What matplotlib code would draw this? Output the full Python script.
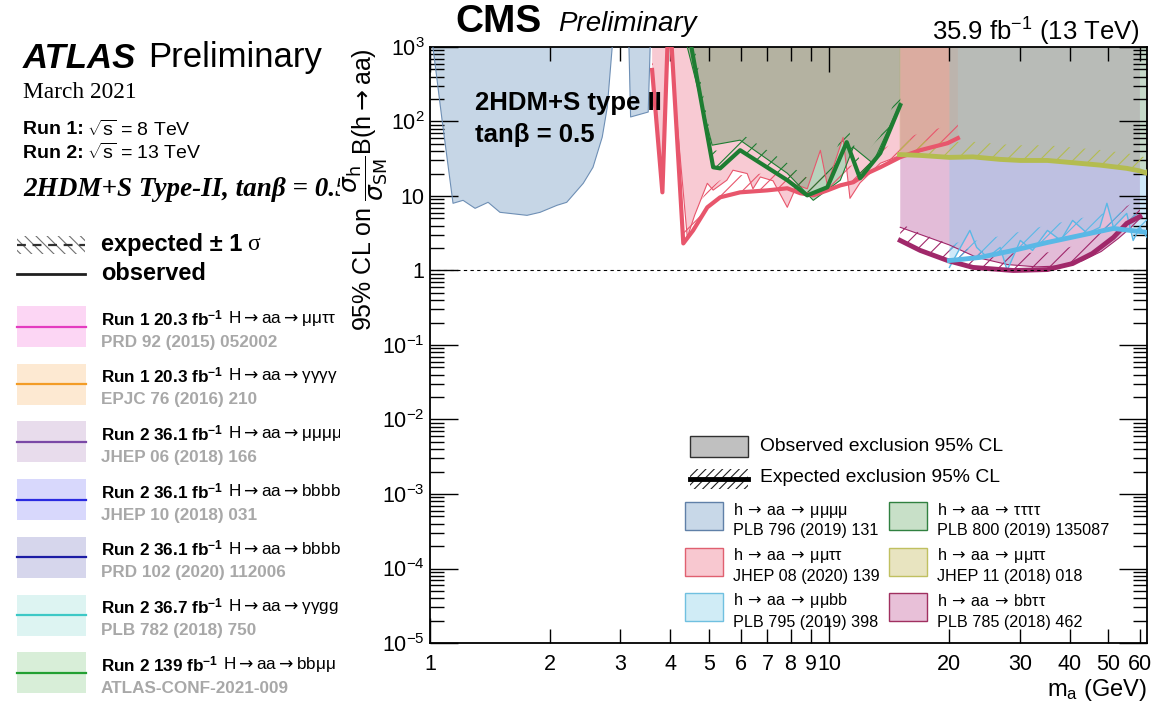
import matplotlib
matplotlib.use("Agg")
import matplotlib.pyplot as plt
from matplotlib.patches import Rectangle
from matplotlib.lines import Line2D
from matplotlib.ticker import LogLocator, NullFormatter

plt.rcParams['font.family'] = ['Liberation Sans', 'DejaVu Sans']
plt.rcParams['mathtext.fontset'] = 'custom'
plt.rcParams['mathtext.rm'] = 'Liberation Sans'
plt.rcParams['mathtext.it'] = 'Liberation Sans:italic'
plt.rcParams['mathtext.bf'] = 'Liberation Sans:bold'
plt.rcParams['mathtext.sf'] = 'Liberation Sans'
plt.rcParams['hatch.linewidth'] = 0.8

# ---------------- data ----------------
# h -> aa -> mumumumu  (PLB 796 (2019) 131): observed exclusion boundary
mmmm_x = [1.017, 1.072, 1.142, 1.21, 1.297, 1.398, 1.497, 1.75, 1.887, 2.08, 2.20, 2.42, 2.56, 2.70, 2.78, 2.86]
mmmm_y = [1000, 105, 7.98, 8.75, 6.83, 8.23, 6.04, 5.50, 6.04, 7.50, 8.23, 14.8, 24.3, 61.6, 156, 1000]
mmmm2_x = [3.15, 3.18, 3.52, 3.56]
mmmm2_y = [1000, 115, 134, 1000]

# h -> aa -> mumutautau (JHEP 08 (2020) 139)
mmtt_obs_x = [3.6, 3.82, 3.95, 4.0, 4.41, 4.6, 4.95, 5.12, 5.54, 5.74, 6.23, 6.44, 6.72, 7.23, 7.85, 8.3, 8.81,
              9.5, 9.89, 10.83, 11.27, 11.94, 13.42, 15.06, 17.0, 19.0, 21.0]
mmtt_obs_y = [492, 11.2, 1000, 1000, 2.78, 5.5, 14.8, 12.0, 16.3, 22.2, 20.0, 12.5, 18.0, 16.0, 7.05, 14.0, 12.5,
              41.0, 14.0, 61.0, 9.3, 15.0, 27.5, 35.0, 40.0, 48.0, 62.0]
mmtt_exp_x = [3.60, 3.82, 3.95, 4.00, 4.31, 4.56, 4.95, 5.33, 5.98, 6.99, 7.85, 8.46, 9.12, 9.89, 10.66, 11.49,
              12.45, 13.42, 15.06, 16.9, 19.8, 21.0]
mmtt_exp_y = [492, 11.2, 2000, 2000, 2.31, 3.45, 7.05, 9.6, 11.2, 11.9, 12.7, 10.9, 10.2, 11.9, 13.9, 15.3,
              20.2, 24.3, 33.2, 41.2, 51.2, 59.8]

# h -> aa -> tautautautau (PLB 800 (2019) 135087)
tttt_obs_x = [4.41, 5.09, 5.98, 7.85, 9.12, 10.66, 11.49, 12.86, 15.06]
tttt_obs_y = [1000, 48.1, 56.2, 20.2, 8.75, 16.3, 45.0, 27.5, 176]
tttt_exp_x = [4.41, 5.12, 5.33, 5.98, 7.85, 8.81, 9.89, 11.06, 11.94, 13.42, 15.06]
tttt_exp_y = [2000, 24.3, 23.5, 41.2, 16.3, 10.2, 13.1, 52.8, 17.3, 37.6, 166]

# h -> aa -> bbtautau (PLB 785 (2018) 462)
bbtt_obs_x = [15.06, 18.0, 20.0, 23.4, 28.0, 33.0, 38.0, 43.0, 48.0, 53.0, 57.0, 60.0]
bbtt_obs_y = [3.8, 2.7, 2.2, 1.5, 1.2, 1.12, 1.15, 1.35, 1.8, 2.7, 3.8, 5.0]
bbtt_exp_x = [15.06, 16.9, 19.8, 22.9, 28.9, 35.2, 40.7, 45.6, 51.5, 55.6, 60.0]
bbtt_exp_y = [2.53, 1.86, 1.36, 1.10, 1.0, 1.03, 1.24, 1.69, 2.78, 4.29, 5.3]

# h -> aa -> mumubb (PLB 795 (2019) 398)
mmbb_obs_x = [20.0, 20.9, 22.5, 23.4, 24.9, 26.8, 27.9, 30.1, 32.3, 35.2, 38.0, 40.7, 44.3, 47.6, 49.6, 51.5,
              55.6, 57.7, 60.0, 62.5]
mmbb_obs_y = [1.10, 1.69, 3.45, 2.04, 1.50, 2.04, 1.0, 2.53, 1.86, 3.45, 2.53, 4.7, 3.15, 3.79, 7.98, 3.79,
              5.84, 2.53, 3.79, 2.78]
mmbb_exp_x = [20.0, 23.9, 28.9, 35.2, 42.6, 51.5, 62.5]
mmbb_exp_y = [1.36, 1.50, 1.86, 2.38, 2.96, 3.67, 3.25]

# h -> aa -> mumutautau (JHEP 11 (2018) 018)
mmtt2_x = [15.0, 17.0, 20.0, 22.9, 26.8, 30.1, 35.2, 40.7, 47.6, 51.5, 55.6, 60.0, 62.5]
mmtt2_y = [36, 35, 33, 33.5, 31, 30, 30, 28, 26, 24.7, 23.5, 21.7, 20.2]

x_major = [1, 10]
x_minor = [2, 3, 4, 5, 6, 7, 8, 9, 20, 30, 40, 50, 60]
y_ticks = [1e-5, 1e-4, 1e-3, 1e-2, 1e-1, 1, 10, 1e2, 1e3]
y_labels = [r'$10^{-5}$', r'$10^{-4}$', r'$10^{-3}$', r'$10^{-2}$', r'$10^{-1}$', '1', '10', r'$10^{2}$', r'$10^{3}$']

# ATLAS legend panel
atlas_lumi = ['Run 1 20.3', 'Run 1 20.3', 'Run 2 36.1', 'Run 2 36.1', 'Run 2 36.1', 'Run 2 36.7', 'Run 2 139']
atlas_decay = ['μμττ', 'γγγγ', 'μμμμ', 'bbbb', 'bbbb', 'γγgg', 'bbμμ']
atlas_refs = ['PRD 92 (2015) 052002', 'EPJC 76 (2016) 210', 'JHEP 06 (2018) 166', 'JHEP 10 (2018) 031',
              'PRD 102 (2020) 112006', 'PLB 782 (2018) 750', 'ATLAS-CONF-2021-009']
atlas_line_colors = ['#e43cc0', '#f39c26', '#7a48a6', '#2a2ae0', '#1c1ca4', '#3cc8c6', '#22a032']
atlas_fill_colors = ['#fcd6f4', '#fde9d2', '#e8dcec', '#d8d8fc', '#d6d6ec', '#ddf4f2', '#d8eed8']

# CMS legend
cms_leg_final = ['μμμμ', 'μμττ', 'μμbb', 'ττττ', 'μμττ', 'bbττ']
cms_leg_refs = ['PLB 796 (2019) 131', 'JHEP 08 (2020) 139', 'PLB 795 (2019) 398',
                'PLB 800 (2019) 135087', 'JHEP 11 (2018) 018', 'PLB 785 (2018) 462']
cms_leg_face = ['#c8d8e8', '#f8c8d0', '#d0ecf6', '#c8e0c8', '#e8e4c0', '#e8c0d8']
cms_leg_edge = ['#6080a8', '#e06070', '#70c0e0', '#308040', '#c0c060', '#a03060']

# ---------------- figure ----------------
W, H = 1153, 713
fig = plt.figure(figsize=(W / 100, H / 100), dpi=100)

ax = fig.add_axes([430 / W, 1 - 643 / H, (1147 - 430) / W, (643 - 47) / H])
ax.set_xscale('log')
ax.set_yscale('log')
ax.set_xlim(1, 62.5)
ax.set_ylim(1e-5, 1e3)
TOP = 1000


def hatch_band(x, y, color, factor=1.7, z=3):
    ax.fill_between(x, y, [v * factor for v in y], facecolor='none', edgecolor=color,
                    hatch='//', lw=0, zorder=z)


# mumumumu
ax.fill_between(mmmm_x, mmmm_y, TOP, facecolor='#c6d6e6', lw=0, zorder=1)
ax.plot(mmmm_x, mmmm_y, color='#6e8fb5', lw=0.8, zorder=4)
ax.fill_between(mmmm2_x, mmmm2_y, TOP, facecolor='#c6d6e6', lw=0, zorder=1)
ax.plot(mmmm2_x, mmmm2_y, color='#6e8fb5', lw=0.8, zorder=4)

# bbtautau
purple = '#a0286a'
ax.fill_between(bbtt_obs_x, bbtt_obs_y, TOP, facecolor='#d8a0c8', alpha=0.7, lw=0, zorder=1.1)
hatch_band(bbtt_exp_x, bbtt_exp_y, purple)
ax.plot(bbtt_obs_x, bbtt_obs_y, color=purple, lw=0.8, zorder=4)
ax.plot(bbtt_exp_x, bbtt_exp_y, color=purple, lw=3.5, zorder=5)

# mumutautau (JHEP 08 2020)
red = '#e8566c'
ax.fill_between(mmtt_obs_x, mmtt_obs_y, TOP, facecolor='#f4a0b0', alpha=0.55, lw=0, zorder=1.2)
hatch_band(mmtt_exp_x, mmtt_exp_y, red)
ax.plot(mmtt_obs_x, mmtt_obs_y, color=red, lw=0.8, zorder=4)
ax.plot(mmtt_exp_x, mmtt_exp_y, color=red, lw=3, zorder=5)

# tautautautau
green = '#1e7d32'
ax.fill_between(tttt_obs_x, tttt_obs_y, TOP, facecolor='#468c50', alpha=0.38, lw=0, zorder=1.3)
hatch_band(tttt_exp_x, tttt_exp_y, green)
ax.plot(tttt_obs_x, tttt_obs_y, color=green, lw=0.8, zorder=4)
ax.plot(tttt_exp_x, tttt_exp_y, color=green, lw=3, zorder=5)

# mumubb
cyan = '#5ab8e6'
ax.fill_between(mmbb_obs_x, mmbb_obs_y, TOP, facecolor='#87c8f0', alpha=0.4, lw=0, zorder=1.4)
hatch_band(mmbb_exp_x, mmbb_exp_y, cyan)
ax.plot(mmbb_obs_x, mmbb_obs_y, color=cyan, lw=1.0, zorder=4)
ax.plot(mmbb_exp_x, mmbb_exp_y, color=cyan, lw=3.5, zorder=5)

# mumutautau (JHEP 11 2018)
olive = '#b4bc50'
ax.fill_between(mmtt2_x, mmtt2_y, TOP, facecolor='#aaaf3c', alpha=0.25, lw=0, zorder=1.5)
hatch_band(mmtt2_x, mmtt2_y, olive, factor=1.6)
ax.plot(mmtt2_x, mmtt2_y, color=olive, lw=3.5, zorder=5)

ax.axhline(1, color='k', lw=0.8, ls=(0, (3, 3)), zorder=6)

# ticks
ax.set_xticks(x_major, labels=[str(v) for v in x_major])
ax.set_xticks(x_minor, labels=[str(v) for v in x_minor], minor=True)
ax.tick_params(axis='x', which='both', direction='in', top=True, labelsize=15.5, pad=8)
ax.tick_params(axis='x', which='major', length=18, width=1)
ax.tick_params(axis='x', which='minor', length=10, width=1)
ax.set_yticks(y_ticks, labels=y_labels)
ax.yaxis.set_minor_locator(LogLocator(base=10, subs=range(2, 10), numticks=100))
ax.yaxis.set_minor_formatter(NullFormatter())
ax.tick_params(axis='y', which='both', direction='in', right=True, labelsize=15.5, pad=4)
ax.tick_params(axis='y', which='major', length=20, width=1)
ax.tick_params(axis='y', which='minor', length=10, width=1)
for s in ax.spines.values():
    s.set_linewidth(1.3)

ax.text(-0.089, 0.76, r'95% CL on $\dfrac{\sigma_{\mathrm{h}}}{\sigma_{\mathrm{SM}}}$B(h$\rightarrow$aa)',
        transform=ax.transAxes, rotation=90, ha='center', va='center', fontsize=18,
        math_fontfamily='dejavusans')
ax.text(1.0, -0.079, r'm$_{\mathrm{a}}$ (GeV)', transform=ax.transAxes, ha='right', va='center', fontsize=17)
ax.text(0.063, 0.906, '2HDM+S type II', transform=ax.transAxes, fontweight='bold', fontsize=18.5,
        va='center', zorder=7)
ax.text(0.063, 0.852, 'tanβ = 0.5', transform=ax.transAxes, fontweight='bold', fontsize=18.5,
        va='center', zorder=7)

fig.text(455 / W, 1 - 22 / H, 'CMS', fontweight='bold', fontsize=28, va='center')
fig.text(558 / W, 1 - 24 / H, 'Preliminary', style='italic', fontsize=20, va='center')
fig.text(1140 / W, 1 - 32 / H, r'35.9 fb$^{-1}$ (13 TeV)', ha='right', va='center', fontsize=18.5)


# CMS legend (figure pixel coordinates)
def frect(x0, y0, x1, y1, **kw):
    r = Rectangle((x0 / W, 1 - y1 / H), (x1 - x0) / W, (y1 - y0) / H, transform=fig.transFigure, **kw)
    fig.add_artist(r)
    return r


frect(690, 436, 748, 457, facecolor='#c0c0c0', edgecolor='#303030', lw=1)
fig.text(760 / W, 1 - 447 / H, 'Observed exclusion 95% CL', fontsize=13.9, va='center')
frect(690, 469, 748, 489, facecolor='none', edgecolor='#202020', hatch='////', lw=0)
fig.add_artist(Line2D([690 / W, 748 / W], [1 - 479 / H, 1 - 479 / H], color='k', lw=3.5,
                      transform=fig.transFigure))
fig.text(760 / W, 1 - 478 / H, 'Expected exclusion 95% CL', fontsize=13.9, va='center')

for i in range(6):
    col, row = divmod(i, 3)
    bx0 = 685 if col == 0 else 889
    tx = 733 if col == 0 else 937
    cy = 516 + row * 45.5
    frect(bx0, cy - 14, bx0 + 38, cy + 14, facecolor=cms_leg_face[i], edgecolor=cms_leg_edge[i], lw=1)
    fig.text(tx / W, 1 - (cy - 6) / H, r'h$\,\rightarrow\,$aa$\,\rightarrow\,$' + cms_leg_final[i],
             fontsize=11.6, va='center', math_fontfamily='dejavusans')
    fig.text(tx / W, 1 - (cy + 15) / H, cms_leg_refs[i], fontsize=11.6, va='center')

# ---------------- ATLAS legend panel ----------------
axl = fig.add_axes([0, 0, 340 / W, 1])
axl.set_xlim(0, 340)
axl.set_ylim(713, 0)
axl.axis('off')
rend = fig.canvas.get_renderer()


def after(t, gap=4):
    bb = t.get_window_extent(renderer=rend)
    return axl.transData.inverted().transform((bb.x1, bb.y0))[0] + gap


t = axl.text(23, 58, 'ATLAS', fontsize=25, fontweight='bold', style='italic', va='center', clip_on=True)
axl.text(after(t, 12), 58, 'Preliminary', fontsize=25, va='center', clip_on=True)
axl.text(23, 93, 'March 2021', family='Liberation Serif', fontsize=16.8, va='center', clip_on=True)
t = axl.text(23, 130, 'Run 1:', fontsize=14, fontweight='bold', va='center', clip_on=True)
axl.text(after(t, 3), 130, r'$\sqrt{\mathrm{s}}$ = 8 TeV', fontsize=14, va='center', clip_on=True)
t = axl.text(23, 153, 'Run 2:', fontsize=14, fontweight='bold', va='center', clip_on=True)
axl.text(after(t, 3), 153, r'$\sqrt{\mathrm{s}}$ = 13 TeV', fontsize=14, va='center', clip_on=True)
axl.text(23, 190, '2HDM+S Type-II, tanβ = 0.5', family='Liberation Serif', fontsize=19.5,
         fontweight='bold', style='italic', va='center', clip_on=True)

axl.add_patch(Rectangle((17, 236), 68, 18, facecolor='none', edgecolor='#707070', hatch='\\\\\\', lw=0))
axl.add_line(Line2D([17, 85], [245, 245], color='#303030', lw=1.6, ls=(0, (4, 3))))
t = axl.text(101, 245, 'expected ± 1', fontsize=17, fontweight='bold', va='center', clip_on=True)
axl.text(after(t, 5), 245, 'σ', fontsize=17, family='Liberation Serif', va='center', clip_on=True)
axl.add_line(Line2D([17, 85], [274, 274], color='#202020', lw=2))
axl.text(101, 273, 'observed', fontsize=17, fontweight='bold', va='center', clip_on=True)

for i in range(7):
    top = 306 + 57.7 * i
    axl.add_patch(Rectangle((17, top), 69, 41, facecolor=atlas_fill_colors[i], lw=0))
    axl.add_line(Line2D([17, 86], [top + 20.5, top + 20.5], color=atlas_line_colors[i], lw=1.6))
    t = axl.text(101, top + 12, atlas_lumi[i] + r' fb$^{\mathbf{-1}}$', fontsize=12.3, fontweight='bold',
                 va='center', clip_on=True)
    axl.text(after(t, 5), top + 12, r'H$\rightarrow$aa$\rightarrow$' + atlas_decay[i], fontsize=12.3,
             va='center', clip_on=True, math_fontfamily='dejavusans')
    axl.text(101, top + 36, atlas_refs[i], fontsize=12.3, fontweight='bold', color='#a8a8a8',
             va='center', clip_on=True)

fig.savefig('out.png', dpi=100)
